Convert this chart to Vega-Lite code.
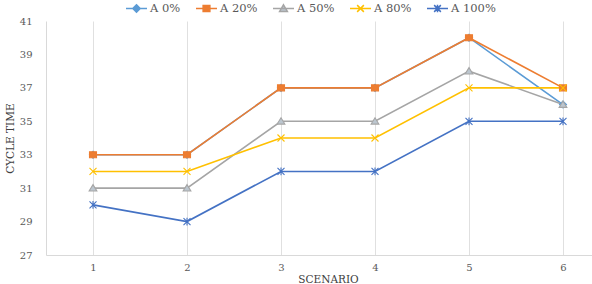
{
  "$schema": "https://vega.github.io/schema/vega-lite/v6.json",
  "width": 546,
  "height": 234,
  "autosize": {"type": "none"},
  "padding": {"left": 46, "top": 21, "right": 0, "bottom": 29},
  "background": "white",
  "config": {
    "view": {"stroke": null},
    "font": "DejaVu Serif",
    "axis": {
      "labelFont": "DejaVu Serif",
      "labelFontSize": 10,
      "labelColor": "#595959",
      "titleFont": "DejaVu Serif",
      "titleFontSize": 10.5,
      "titleFontWeight": "normal",
      "titleColor": "#404040",
      "domainColor": "#d9d9d9",
      "gridColor": "#e0e0e0",
      "ticks": false
    },
    "legend": {
      "labelFont": "DejaVu Serif",
      "labelFontSize": 11.5,
      "labelColor": "#595959"
    }
  },
  "data": {
    "values": [
      {"series": "A 0%", "scenario": "1", "value": 33},
      {"series": "A 0%", "scenario": "2", "value": 33},
      {"series": "A 0%", "scenario": "3", "value": 37},
      {"series": "A 0%", "scenario": "4", "value": 37},
      {"series": "A 0%", "scenario": "5", "value": 40},
      {"series": "A 0%", "scenario": "6", "value": 36},
      {"series": "A 20%", "scenario": "1", "value": 33},
      {"series": "A 20%", "scenario": "2", "value": 33},
      {"series": "A 20%", "scenario": "3", "value": 37},
      {"series": "A 20%", "scenario": "4", "value": 37},
      {"series": "A 20%", "scenario": "5", "value": 40},
      {"series": "A 20%", "scenario": "6", "value": 37},
      {"series": "A 50%", "scenario": "1", "value": 31},
      {"series": "A 50%", "scenario": "2", "value": 31},
      {"series": "A 50%", "scenario": "3", "value": 35},
      {"series": "A 50%", "scenario": "4", "value": 35},
      {"series": "A 50%", "scenario": "5", "value": 38},
      {"series": "A 50%", "scenario": "6", "value": 36},
      {"series": "A 80%", "scenario": "1", "value": 32},
      {"series": "A 80%", "scenario": "2", "value": 32},
      {"series": "A 80%", "scenario": "3", "value": 34},
      {"series": "A 80%", "scenario": "4", "value": 34},
      {"series": "A 80%", "scenario": "5", "value": 37},
      {"series": "A 80%", "scenario": "6", "value": 37},
      {"series": "A 100%", "scenario": "1", "value": 30},
      {"series": "A 100%", "scenario": "2", "value": 29},
      {"series": "A 100%", "scenario": "3", "value": 32},
      {"series": "A 100%", "scenario": "4", "value": 32},
      {"series": "A 100%", "scenario": "5", "value": 35},
      {"series": "A 100%", "scenario": "6", "value": 35}
    ]
  },
  "encoding": {
    "x": {
      "field": "scenario",
      "type": "ordinal",
      "scale": {"paddingInner": 0, "paddingOuter": 0, "range": [0, 564]},
      "axis": {
        "title": "SCENARIO",
        "labelAngle": 0,
        "labelPadding": 7,
        "grid": true,
        "bandPosition": 0,
        "titlePadding": 2
      }
    },
    "y": {
      "field": "value",
      "type": "quantitative",
      "scale": {"domain": [27, 41], "nice": false, "zero": false},
      "axis": {
        "title": "CYCLE TIME",
        "values": [27, 29, 31, 33, 35, 37, 39, 41],
        "grid": false,
        "labelPadding": 14,
        "titlePadding": 4
      }
    }
  },
  "layer": [
    {
      "mark": {"type": "line", "strokeWidth": 1.6},
      "encoding": {
        "stroke": {
          "field": "series",
          "type": "nominal",
          "sort": ["A 0%", "A 20%", "A 50%", "A 80%", "A 100%"],
          "scale": {
            "domain": ["A 0%", "A 20%", "A 50%", "A 80%", "A 100%"],
            "range": ["#5B9BD5", "#ED7D31", "#A5A5A5", "#FFC000", "#4472C4"]
          },
          "legend": {
            "title": null,
            "orient": "none",
            "direction": "horizontal",
            "columns": 5,
            "legendX": 79,
            "legendY": -24,
            "symbolSize": 441,
            "symbolStrokeWidth": 1.5,
            "labelOffset": 2,
            "columnPadding": 12,
            "gridAlign": "none",
            "encode": {
              "symbols": {
                "update": {
                  "shape": {"signal": "{'A 0%': 'M-1,0L1,0M0,-0.35L0.35,0L0,0.35L-0.35,0Z', 'A 20%': 'M-1,0L1,0M-0.32,-0.28L0.32,-0.28L0.32,0.28L-0.32,0.28Z', 'A 50%': 'M-1,0L1,0M0,-0.35L0.37,0.28L-0.37,0.28Z', 'A 80%': 'M-1,0L1,0M-0.32,-0.32L0.32,0.32M-0.32,0.32L0.32,-0.32', 'A 100%': 'M-1,0L1,0M-0.32,-0.32L0.32,0.32M-0.32,0.32L0.32,-0.32M0,-0.35L0,0.35'}[datum.value]"},
                  "stroke": {"signal": "{'A 0%': '#5B9BD5', 'A 20%': '#ED7D31', 'A 50%': '#A5A5A5', 'A 80%': '#FFC000', 'A 100%': '#4472C4'}[datum.value]"},
                  "fill": {"signal": "{'A 0%': '#5B9BD5', 'A 20%': '#ED7D31', 'A 50%': '#BCC6CF', 'A 80%': '#FFC000', 'A 100%': '#4472C4'}[datum.value]"},
                  "strokeWidth": {"value": 1.5}
                }
              }
            }
          }
        }
      }
    },
    {
      "mark": {"type": "point", "filled": true, "size": 49, "strokeWidth": 1.1, "opacity": 1},
      "encoding": {
        "stroke": {
          "field": "series",
          "type": "nominal",
          "sort": ["A 0%", "A 20%", "A 50%", "A 80%", "A 100%"],
          "scale": {
            "domain": ["A 0%", "A 20%", "A 50%", "A 80%", "A 100%"],
            "range": ["#5B9BD5", "#ED7D31", "#A5A5A5", "#FFC000", "#4472C4"]
          },
          "legend": null
        },
        "fill": {
          "field": "series",
          "type": "nominal",
          "sort": ["A 0%", "A 20%", "A 50%", "A 80%", "A 100%"],
          "scale": {
            "domain": ["A 0%", "A 20%", "A 50%", "A 80%", "A 100%"],
            "range": ["#5B9BD5", "#ED7D31", "#BCC6CF", "#FFC000", "#4472C4"]
          },
          "legend": null
        },
        "shape": {
          "field": "series",
          "type": "nominal",
          "sort": ["A 0%", "A 20%", "A 50%", "A 80%", "A 100%"],
          "scale": {
            "domain": ["A 0%", "A 20%", "A 50%", "A 80%", "A 100%"],
            "range": [
              "M0,-1L1,0L0,1L-1,0Z",
              "M-1,-0.85L1,-0.85L1,0.85L-1,0.85Z",
              "M0,-1L1.1,0.8L-1.1,0.8Z",
              "M-1,-1L1,1M-1,1L1,-1",
              "M-1,-1L1,1M-1,1L1,-1M0,-1.1L0,1.1"
            ]
          },
          "legend": null
        }
      }
    }
  ],
  "resolve": {"legend": {"stroke": "independent", "fill": "independent", "shape": "independent"}}
}
